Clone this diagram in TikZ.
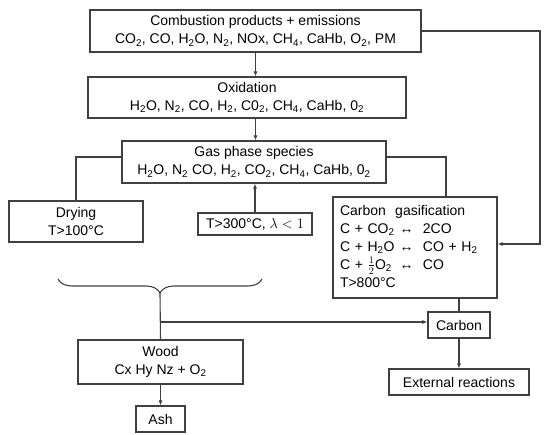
\documentclass[tikz,border=0pt]{standalone}
\usepackage{amsmath,amssymb}
\usepackage{fontspec}
\setmainfont{Liberation Sans}
\usetikzlibrary{arrows.meta, decorations.pathreplacing, calc}

\begin{document}
\begin{tikzpicture}[x=1pt, y=-1pt, font=\fontsize{14}{18}\selectfont, >={Latex[length=5pt,width=4pt]},
    box/.style={draw=black!75, line width=1.1pt, align=center, inner sep=0pt},
    link/.style={draw=black!75, line width=1.1pt}]
    \useasboundingbox (0,0) rectangle (550,435);
    \node[box, minimum width=331, minimum height=42] (comb) at (255.5,31)
        {Combustion products + emissions\\ CO\textsubscript{2}, CO, H\textsubscript{2}O, N\textsubscript{2}, NOx, CH\textsubscript{4}, CaHb, O\textsubscript{2}, PM};
    \node[box, minimum width=318, minimum height=41] (oxid) at (247,97.5)
        {Oxidation\\ H\textsubscript{2}O, N\textsubscript{2}, CO, H\textsubscript{2}, C0\textsubscript{2}, CH\textsubscript{4}, CaHb, 0\textsubscript{2}};
    \node[box, minimum width=264, minimum height=42] (gas) at (254,162)
        {Gas phase species\\ H\textsubscript{2}O, N\textsubscript{2} CO, H\textsubscript{2}, CO\textsubscript{2}, CH\textsubscript{4}, CaHb, 0\textsubscript{2}};
    \node[box, minimum width=134, minimum height=41] (drying) at (76,221.5) {Drying\\ T>100°C};
    \node[box, minimum width=114, minimum height=22] (temp) at (255,224) {T>300°C, $\lambda < 1$};
    \node[box, minimum width=164, minimum height=101, text width=150, align=left] (gasif) at (415,247.5)
        {\noindent\begin{tabular}{@{}l@{\hspace{5pt}}l@{}}
            \multicolumn{2}{@{}l@{}}{Carbon\ \ gasification}\\
            C + CO\textsubscript{2} & ↔\ \ 2CO\\
            C + H\textsubscript{2}O & ↔\ \ CO + H\textsubscript{2}\\
            C + $\tfrac{1}{2}$O\textsubscript{2} & ↔\ \ CO\\
            \multicolumn{2}{@{}l@{}}{T>800°C}
        \end{tabular}};
    \node[box, minimum width=165, minimum height=44] (wood) at (160.5,362) {Wood\\ Cx Hy Nz + O\textsubscript{2}};
    \node[box, minimum width=49, minimum height=26] (ash) at (160.5,419) {Ash};
    \node[box, minimum width=62, minimum height=26] (carbon) at (459,325) {Carbon};
    \node[box, minimum width=140, minimum height=26] (ext) at (459,382) {External reactions};

    \coordinate (gl) at (76,157);
    \coordinate (gr) at (446,157);
    \coordinate (fb) at (540,244);
    \coordinate (tip) at (160,293);
    \coordinate (split) at (160,322);

    \draw[link, ->] (comb.south) -- (comb.south |- oxid.north);
    \draw[link, ->] (comb.south |- oxid.south) -- (comb.south |- gas.north);
    \draw[link, ->] (temp.north) -- (temp.north |- gas.south);
    \draw[link] (drying.north) -- (gl) -- (gl -| gas.west);
    \draw[link] (gas.east |- gr) -- (gr) -- (gr |- gasif.north);
    \draw[link, ->] (comb.east) -| (fb) -- (fb -| gasif.east);
    \draw[link] (carbon.north |- gasif.south) -- (carbon.north);
    \draw[link, ->] (carbon.south) -- (ext.north);
    \draw[link, decorate, decoration={brace, amplitude=14pt}] (262,279) -- (58,279);
    \draw[link] (tip) -- (wood.north);
    \draw[link, ->] (split) -- (split -| carbon.west);
    \draw[link, ->] (wood.south) -- (ash.north);
\end{tikzpicture}
\end{document}
